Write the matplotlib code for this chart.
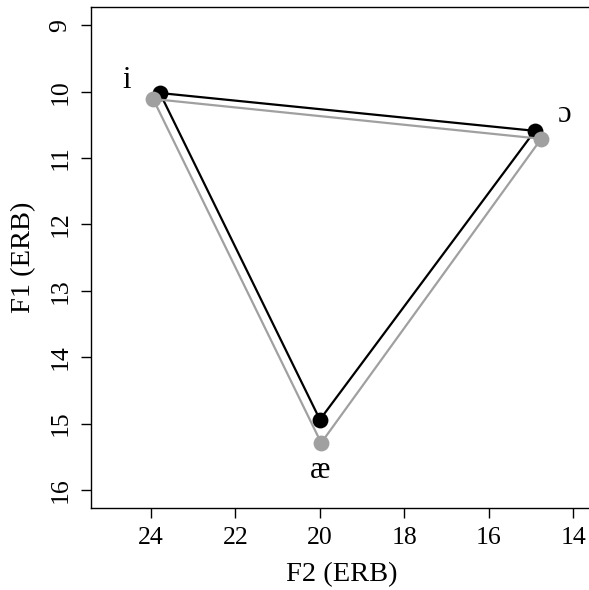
import matplotlib
matplotlib.use("Agg")
import matplotlib.pyplot as plt

plt.rcParams['font.family'] = ['Liberation Serif', 'DejaVu Serif']

vowels = ['i', 'ɔ', 'æ']
f2_black = [23.79, 14.91, 20.0]
f1_black = [10.02, 10.59, 14.94]
f2_grey = [23.95, 14.76, 19.97]
f1_grey = [10.11, 10.71, 15.29]
label_f2 = [24.57, 14.22, 20.0]
label_f1 = [9.83, 10.35, 15.70]
xticks = [24, 22, 20, 18, 16, 14]
yticks = [9, 10, 11, 12, 13, 14, 15, 16]

W, H = 589, 590
fig = plt.figure(figsize=(W/100, H/100), dpi=100)
left, right, top, bottom = 90.7, 592, 6.7, 508.3
ax = fig.add_axes([left/W, 1 - bottom/H, (right-left)/W, (bottom-top)/H])

px_x = 42.23
px_y = 66.4
ax.set_xlim(24 + (151 - left)/px_x, 14 - (right - 573.3)/px_x)
ax.set_ylim(16 + (bottom - 490)/px_y, 9 - (25.3 - top)/px_y)

def closed(a):
    return list(a) + [a[0]]

ax.plot(closed(f2_black), closed(f1_black), color='black', lw=1.6, zorder=2)
ax.scatter(f2_black, f1_black, s=130, color='black', zorder=3, linewidths=0)
ax.plot(closed(f2_grey), closed(f1_grey), color='#a0a0a0', lw=1.6, zorder=4)
ax.scatter(f2_grey, f1_grey, s=130, color='#a0a0a0', zorder=5, linewidths=0)

for v, x, y in zip(vowels, label_f2, label_f1):
    ax.text(x, y, v, fontsize=22, ha='center', va='center')

ax.set_xticks(xticks)
ax.set_yticks(yticks)
ax.set_yticklabels([str(t) for t in yticks], rotation=90, va='center')
ax.tick_params(direction='out', length=7.2, width=1, labelsize=18.5)
ax.tick_params(axis='x', pad=6)
ax.tick_params(axis='y', pad=6.8)
ax.set_xlabel('F2 (ERB)', fontsize=20.5, labelpad=9.4)
ax.set_ylabel('F1 (ERB)', fontsize=20.5, labelpad=9.3)
for s in ax.spines.values():
    s.set_linewidth(1)

fig.savefig('out.png', dpi=100)
